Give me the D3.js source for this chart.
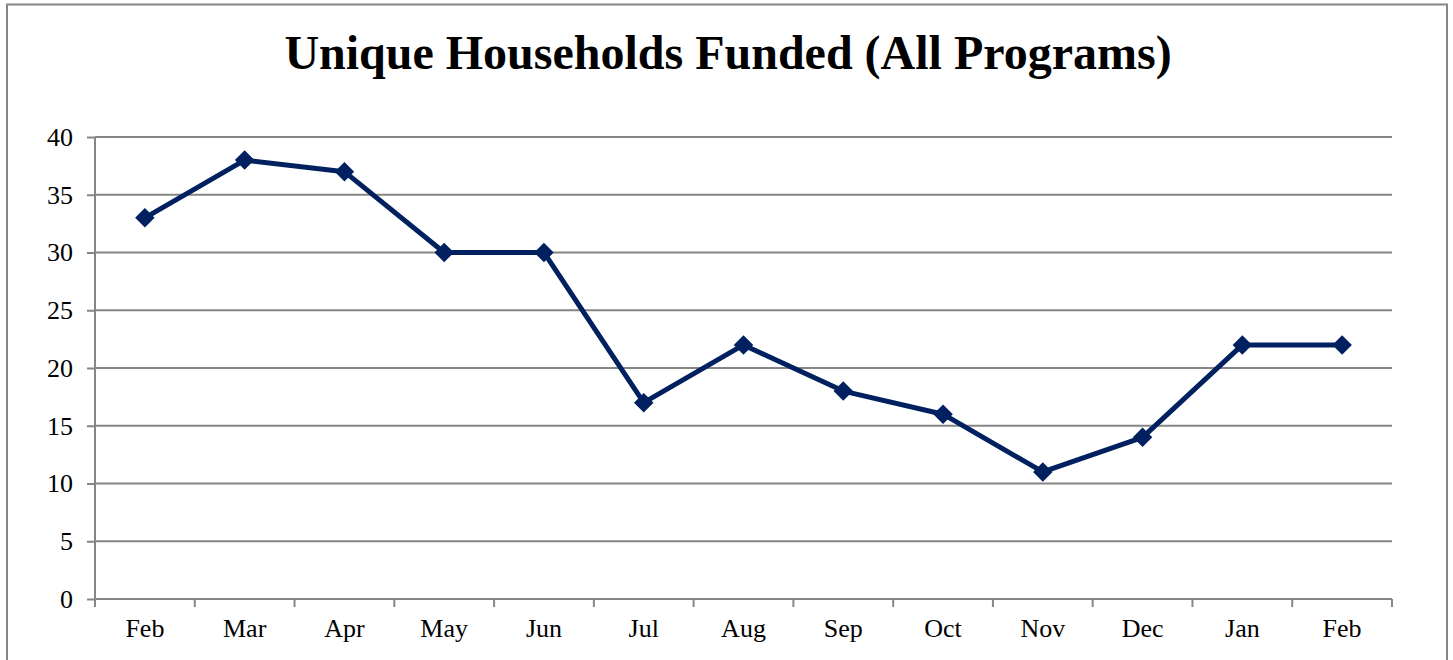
<!DOCTYPE html>
<html><head><meta charset="utf-8">
<script src="https://cdn.jsdelivr.net/npm/d3@7"></script>
<style>body{margin:0;background:#fff}svg{display:block}</style>
</head><body>
<svg id="c" width="1453" height="660"></svg>
<script>
const categories = ["Feb","Mar","Apr","May","Jun","Jul","Aug","Sep","Oct","Nov","Dec","Jan","Feb"];
const values = [33,38,37,30,30,17,22,18,16,11,14,22,22];
const yTicks = [0,5,10,15,20,25,30,35,40];
const title = "Unique Households Funded (All Programs)";

const svg = d3.select("#c");
const font = "'Liberation Serif','Times New Roman',serif";
const L = 95, R = 1392, T = 137, B = 599;
const idx = categories.map((d,i)=>i);
const x = d3.scaleBand().domain(idx).range([L,R]);
const y = d3.scaleLinear().domain([0,40]).range([B,T]);

// outer border
svg.append("rect").attr("x",7).attr("y",4.5).attr("width",1440).attr("height",670)
  .attr("fill","none").attr("stroke","#868686").attr("stroke-width",2);

svg.append("text").attr("x",728).attr("y",69).attr("text-anchor","middle")
  .attr("font-family",font).attr("font-weight","bold").attr("font-size",48).attr("fill","#000").text(title);

// gridlines
svg.append("g").selectAll("line").data(yTicks.filter(d=>d>0)).join("line")
  .attr("x1",L).attr("x2",R).attr("y1",d=>y(d)).attr("y2",d=>y(d))
  .attr("stroke","#868686").attr("stroke-width",2);

// y axis
const ya = svg.append("g").attr("transform",`translate(${L},0)`)
  .call(d3.axisLeft(y).tickValues(yTicks).tickSize(8).tickPadding(14));
ya.select(".domain").attr("stroke","#868686").attr("stroke-width",2).attr("d",`M0,${T}V${B}`);
ya.selectAll(".tick line").attr("stroke","#868686").attr("stroke-width",2);
ya.selectAll("text").attr("font-family",font).attr("font-size",26).attr("fill","#000");

// x axis
const xa = svg.append("g").attr("transform",`translate(0,${B})`)
  .call(d3.axisBottom(x).tickFormat(i=>categories[i]).tickSize(0).tickPadding(20));
xa.select(".domain").attr("stroke","#868686").attr("stroke-width",2).attr("d",`M${L},0H${R}`);
xa.selectAll("text").attr("font-family",font).attr("font-size",26).attr("fill","#000");
const bounds = idx.map(i=>x(i)).concat([R]);
xa.append("g").selectAll("line").data(bounds).join("line")
  .attr("x1",d=>d).attr("x2",d=>d).attr("y1",0).attr("y2",8)
  .attr("stroke","#868686").attr("stroke-width",2);

const cx = i => x(i)+x.bandwidth()/2;
svg.append("path").datum(values)
  .attr("d",d3.line().x((d,i)=>cx(i)).y(d=>y(d)))
  .attr("fill","none").attr("stroke","#002060").attr("stroke-width",5).attr("stroke-linejoin","round");

svg.append("g").selectAll("path").data(values).join("path")
  .attr("d",d3.symbol(d3.symbolSquare,190))
  .attr("transform",(d,i)=>`translate(${cx(i)},${y(d)}) rotate(45)`)
  .attr("fill","#002060");
</script>
</body></html>
